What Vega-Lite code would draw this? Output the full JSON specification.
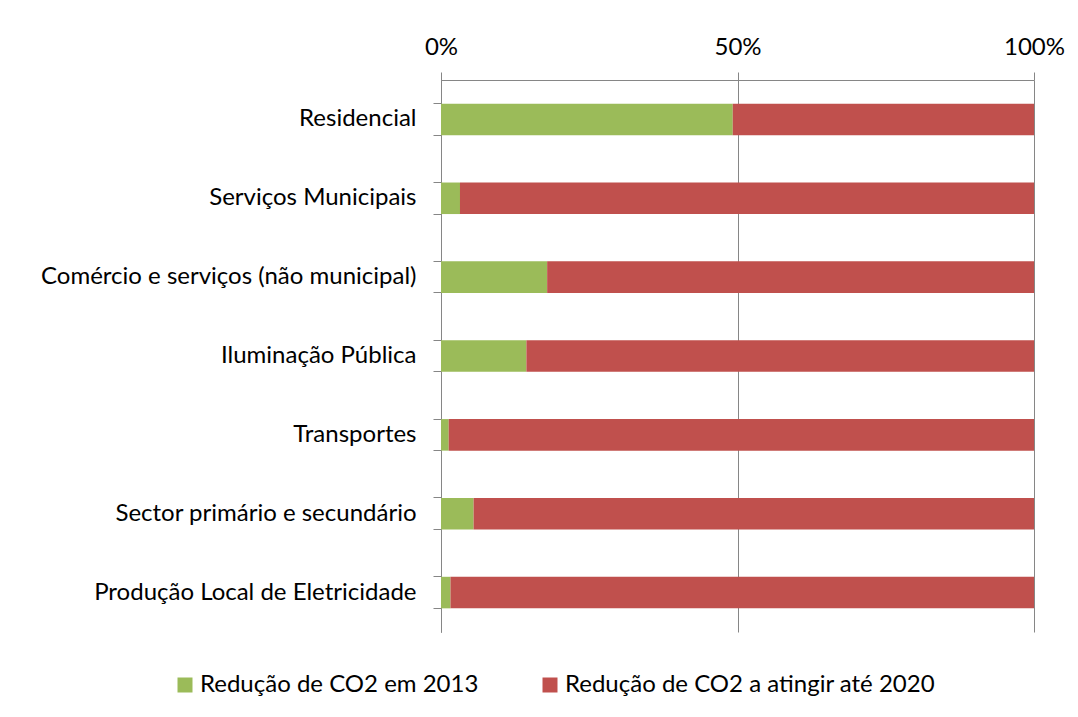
{
  "$schema": "https://vega.github.io/schema/vega-lite/v6.json",
  "autosize": {"type": "none"},
  "padding": {"left": 441, "top": 80, "right": 44, "bottom": 85},
  "width": 593,
  "height": 552,
  "background": "white",
  "config": {
    "font": "Lato",
    "view": {"stroke": null},
    "axis": {"labelFont": "Lato", "labelColor": "#000000", "labelFontSize": 24, "domainColor": "#868686", "tickColor": "#868686", "gridColor": "#868686"}
  },
  "data": {
    "values": [
      {"sector": "Residencial", "serie": "Redução de CO2 em 2013", "ord": 1, "pct": 49.2},
      {"sector": "Residencial", "serie": "Redução de CO2 a atingir até 2020", "ord": 2, "pct": 50.8},
      {"sector": "Serviços Municipais", "serie": "Redução de CO2 em 2013", "ord": 1, "pct": 3.2},
      {"sector": "Serviços Municipais", "serie": "Redução de CO2 a atingir até 2020", "ord": 2, "pct": 96.8},
      {"sector": "Comércio e serviços (não municipal)", "serie": "Redução de CO2 em 2013", "ord": 1, "pct": 17.9},
      {"sector": "Comércio e serviços (não municipal)", "serie": "Redução de CO2 a atingir até 2020", "ord": 2, "pct": 82.1},
      {"sector": "Iluminação Pública", "serie": "Redução de CO2 em 2013", "ord": 1, "pct": 14.4},
      {"sector": "Iluminação Pública", "serie": "Redução de CO2 a atingir até 2020", "ord": 2, "pct": 85.6},
      {"sector": "Transportes", "serie": "Redução de CO2 em 2013", "ord": 1, "pct": 1.3},
      {"sector": "Transportes", "serie": "Redução de CO2 a atingir até 2020", "ord": 2, "pct": 98.7},
      {"sector": "Sector primário e secundário", "serie": "Redução de CO2 em 2013", "ord": 1, "pct": 5.5},
      {"sector": "Sector primário e secundário", "serie": "Redução de CO2 a atingir até 2020", "ord": 2, "pct": 94.5},
      {"sector": "Produção Local de Eletricidade", "serie": "Redução de CO2 em 2013", "ord": 1, "pct": 1.6},
      {"sector": "Produção Local de Eletricidade", "serie": "Redução de CO2 a atingir até 2020", "ord": 2, "pct": 98.4}
    ]
  },
  "encoding": {
    "y": {"field": "sector", "type": "nominal", "sort": null,
      "scale": {"paddingInner": 0.6, "paddingOuter": 0.3}},
    "x": {"field": "pct", "type": "quantitative", "stack": "normalize",
      "scale": {"domain": [0, 1]}},
    "order": {"field": "ord", "type": "quantitative"}
  },
  "layer": [
    {
      "mark": {"type": "bar"},
      "encoding": {
        "y": {"field": "sector", "type": "nominal", "sort": null,
          "axis": {"title": null, "orient": "left", "domain": false, "ticks": false, "labelPadding": 25, "labelLimit": 600}},
        "x": {"field": "pct", "type": "quantitative", "stack": "normalize",
          "axis": {"title": null, "orient": "top", "values": [0, 0.5, 1], "format": "%", "grid": true, "tickSize": 8, "labelPadding": 13, "labelFlush": false, "labelFontSize": 24, "domainWidth": 1}},
        "color": {"field": "serie", "type": "nominal",
          "scale": {"domain": ["Redução de CO2 em 2013", "Redução de CO2 a atingir até 2020"], "range": ["#9BBB59", "#C0504D"]},
          "legend": {"title": null, "orient": "none", "legendX": -268, "legendY": 593, "direction": "horizontal", "symbolType": "square", "symbolSize": 225, "symbolStrokeWidth": 0, "labelFontSize": 24, "labelFont": "Lato", "labelColor": "#000000", "labelOffset": 3, "columnPadding": 59, "labelLimit": 600}}
      }
    },
    {
      "mark": {"type": "bar", "opacity": 0},
      "encoding": {
        "y": {"field": "sector", "type": "nominal", "sort": null,
          "axis": {"title": null, "orient": "left", "labels": false, "domain": true, "ticks": true, "tickSize": 8, "bandPosition": 0}}
      }
    },
    {
      "mark": {"type": "bar", "opacity": 0},
      "encoding": {
        "y": {"field": "sector", "type": "nominal", "sort": null,
          "axis": {"title": null, "orient": "left", "labels": false, "domain": true, "ticks": true, "tickSize": 8, "bandPosition": 1}}
      }
    }
  ],
  "resolve": {"axis": {"y": "independent"}}
}
